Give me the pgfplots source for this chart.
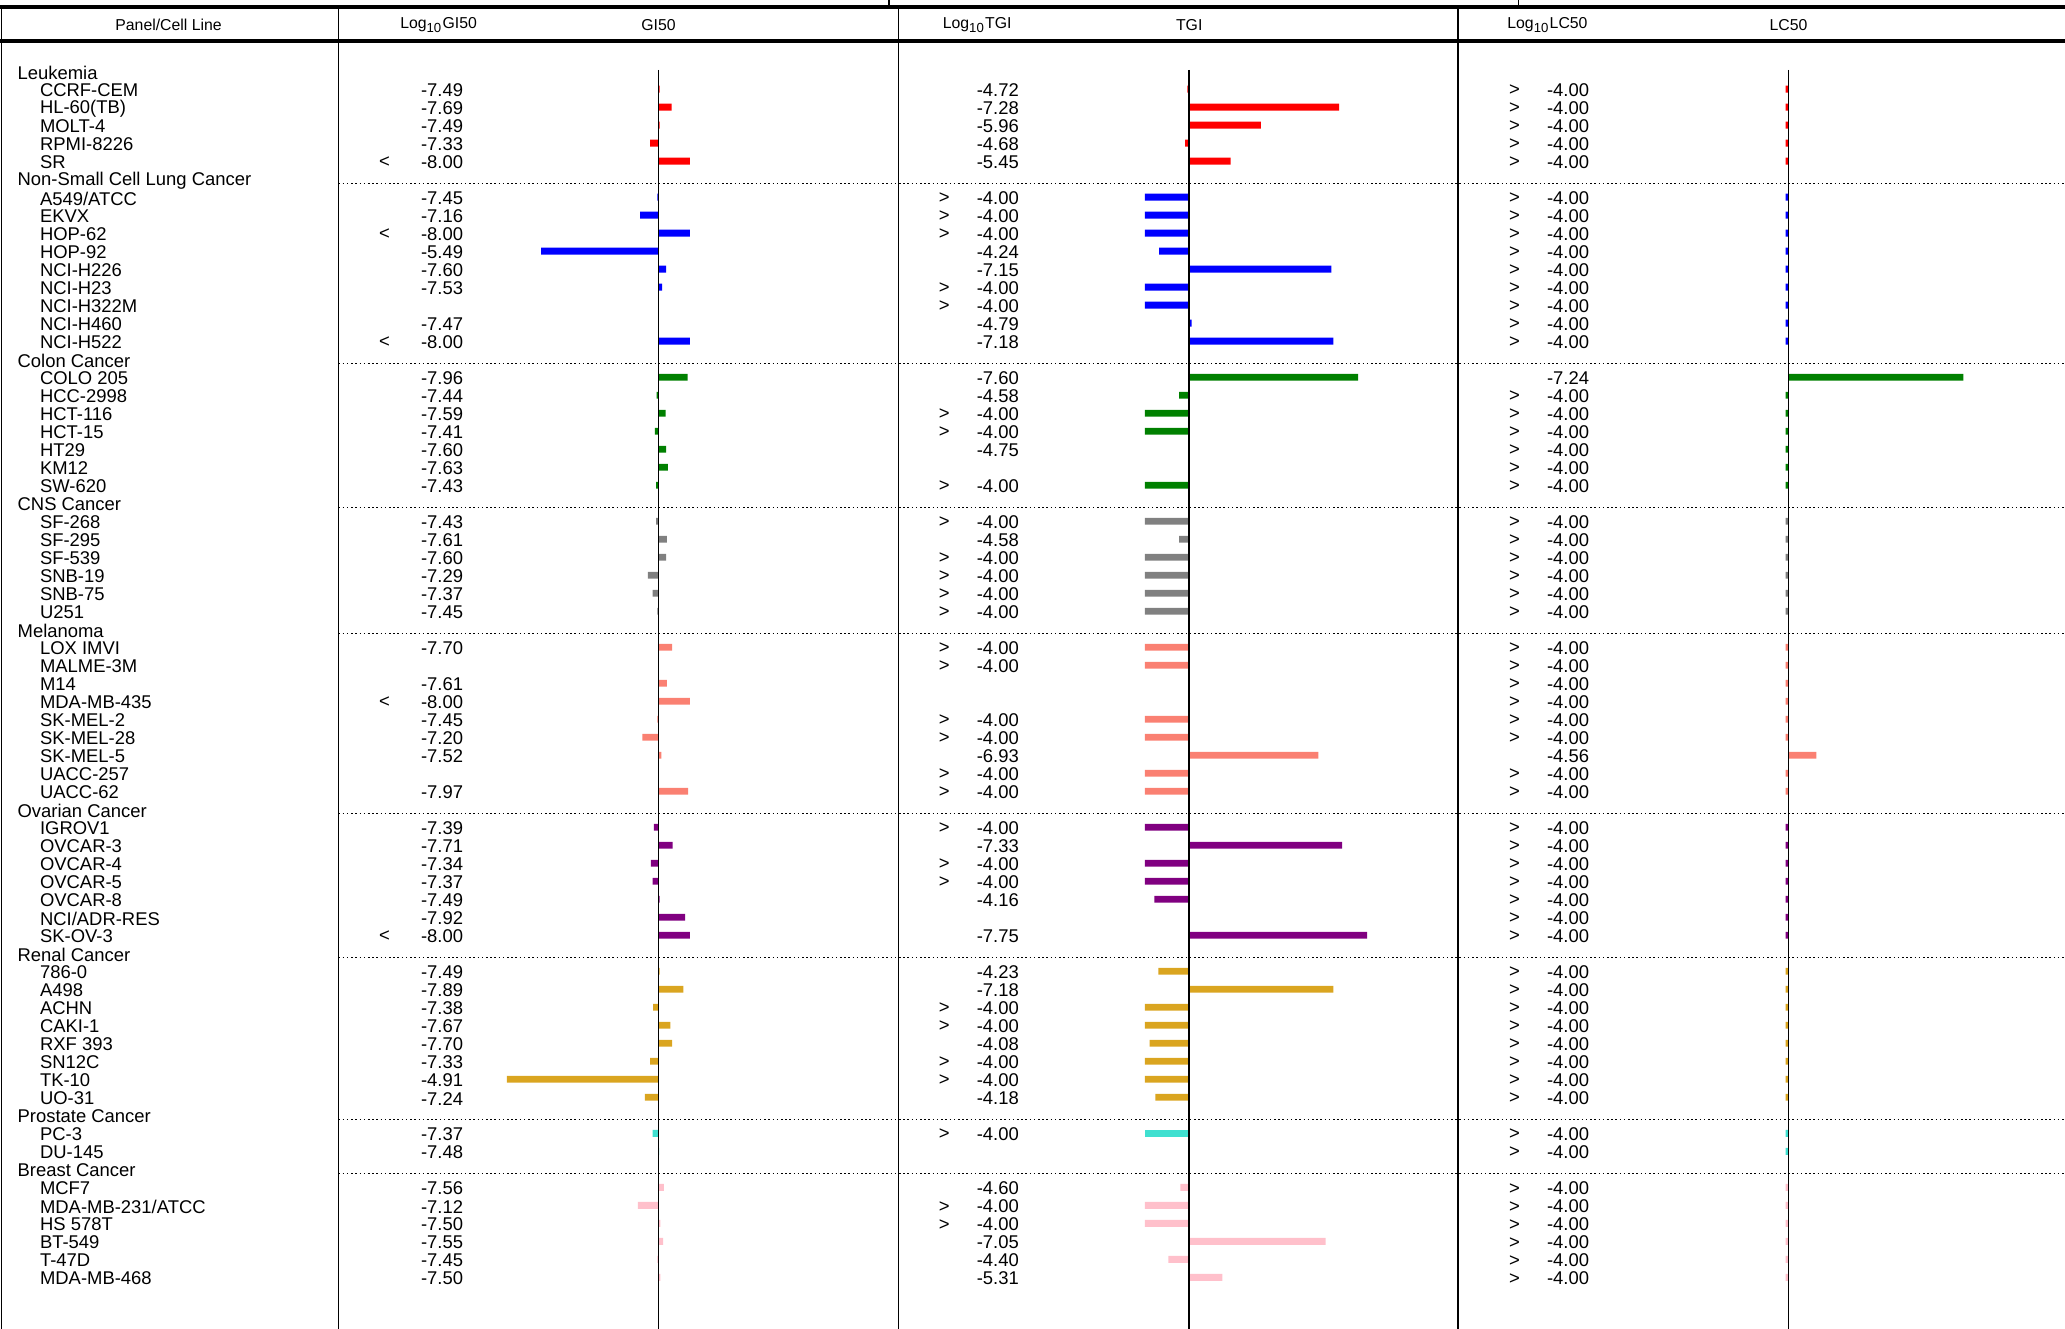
\documentclass[border=0pt]{standalone}
\usepackage{pgfplots}\pgfplotsset{compat=1.18}
\usepackage{pgfplotstable}
\usepackage{fontspec}\setmainfont{Liberation Sans}
\definecolor{cgreen}{RGB}{0,128,0}
\definecolor{cgray}{RGB}{128,128,128}
\definecolor{csalmon}{RGB}{250,128,114}
\definecolor{cpurple}{RGB}{128,0,128}
\definecolor{cgold}{RGB}{218,165,32}
\definecolor{cturq}{RGB}{64,224,208}
\definecolor{cpink}{RGB}{255,192,203}
\pgfplotstableread{
r g t l
1 -7.49 -4.72 -4.00
2 -7.69 -7.28 -4.00
3 -7.49 -5.96 -4.00
4 -7.33 -4.68 -4.00
5 -8.00 -5.45 -4.00
}\tLeuk
\pgfplotstableread{
r g t l
7 -7.45 -4.00 -4.00
8 -7.16 -4.00 -4.00
9 -8.00 -4.00 -4.00
10 -5.49 -4.24 -4.00
11 -7.60 -7.15 -4.00
12 -7.53 -4.00 -4.00
13 nan -4.00 -4.00
14 -7.47 -4.79 -4.00
15 -8.00 -7.18 -4.00
}\tLung
\pgfplotstableread{
r g t l
17 -7.96 -7.60 -7.24
18 -7.44 -4.58 -4.00
19 -7.59 -4.00 -4.00
20 -7.41 -4.00 -4.00
21 -7.60 -4.75 -4.00
22 -7.63 nan -4.00
23 -7.43 -4.00 -4.00
}\tColon
\pgfplotstableread{
r g t l
25 -7.43 -4.00 -4.00
26 -7.61 -4.58 -4.00
27 -7.60 -4.00 -4.00
28 -7.29 -4.00 -4.00
29 -7.37 -4.00 -4.00
30 -7.45 -4.00 -4.00
}\tCNS
\pgfplotstableread{
r g t l
32 -7.70 -4.00 -4.00
33 nan -4.00 -4.00
34 -7.61 nan -4.00
35 -8.00 nan -4.00
36 -7.45 -4.00 -4.00
37 -7.20 -4.00 -4.00
38 -7.52 -6.93 -4.56
39 nan -4.00 -4.00
40 -7.97 -4.00 -4.00
}\tMel
\pgfplotstableread{
r g t l
42 -7.39 -4.00 -4.00
43 -7.71 -7.33 -4.00
44 -7.34 -4.00 -4.00
45 -7.37 -4.00 -4.00
46 -7.49 -4.16 -4.00
47 -7.92 nan -4.00
48 -8.00 -7.75 -4.00
}\tOva
\pgfplotstableread{
r g t l
50 -7.49 -4.23 -4.00
51 -7.89 -7.18 -4.00
52 -7.38 -4.00 -4.00
53 -7.67 -4.00 -4.00
54 -7.70 -4.08 -4.00
55 -7.33 -4.00 -4.00
56 -4.91 -4.00 -4.00
57 -7.24 -4.18 -4.00
}\tRen
\pgfplotstableread{
r g t l
59 -7.37 -4.00 -4.00
60 -7.48 nan -4.00
}\tPro
\pgfplotstableread{
r g t l
62 -7.56 -4.60 -4.00
63 -7.12 -4.00 -4.00
64 -7.50 -4.00 -4.00
65 -7.55 -7.05 -4.00
66 -7.45 -4.40 -4.00
67 -7.50 -5.31 -4.00
}\tBre
\pgfplotsset{barax/.style={hide axis, scale only axis, height=504.5pt, ymin=-3.95, ymax=69.86, y dir=reverse, clip=false, xbar, bar width=2.6pt, bar shift=0pt, unbounded coords=discard}}
\newcommand\yy[1]{{(477-6.835*#1)*1pt}}
\newcommand\R[8]{%
 \node[anchor=west,inner sep=0] at (15pt,\yy{#1}) {#2};
 \node[inner sep=0] at (146pt,\yy{#1}) {#3};
 \node[anchor=east,inner sep=0] at (176pt,\yy{#1}) {#4};
 \node[inner sep=0] at (358.5pt,\yy{#1}) {#5};
 \node[anchor=east,inner sep=0] at (387pt,\yy{#1}) {#6};
 \node[inner sep=0] at (575pt,\yy{#1}) {#7};
 \node[anchor=east,inner sep=0] at (603.5pt,\yy{#1}) {#8};}
\newcommand\Hh[2]{\node[anchor=west,inner sep=0] at (6.5pt,\yy{#1}) {#2};
 \draw[densely dotted,line width=0.6pt] (128.5pt,{(477.5-6.835*#1-1.6)*1pt}) -- (784pt,{(477.5-6.835*#1-1.6)*1pt});}
\newcommand\bars[1]{%
 \addplot[fill=red,draw=none] table[y=r,x expr={#1}]{\tLeuk};
 \addplot[fill=blue,draw=none] table[y=r,x expr={#1}]{\tLung};
 \addplot[fill=cgreen,draw=none] table[y=r,x expr={#1}]{\tColon};
 \addplot[fill=cgray,draw=none] table[y=r,x expr={#1}]{\tCNS};
 \addplot[fill=csalmon,draw=none] table[y=r,x expr={#1}]{\tMel};
 \addplot[fill=cpurple,draw=none] table[y=r,x expr={#1}]{\tOva};
 \addplot[fill=cgold,draw=none] table[y=r,x expr={#1}]{\tRen};
 \addplot[fill=cturq,draw=none] table[y=r,x expr={#1}]{\tPro};
 \addplot[fill=cpink,draw=none] table[y=r,x expr={#1}]{\tBre};}
\begin{document}
\begin{tikzpicture}
\useasboundingbox (0,0) rectangle (784pt,504.5pt);
\begin{axis}[barax, at={(128.5pt,0)}, width=212.5pt, xmin=-5.4, xmax=4.044]
\bars{-7.47-\thisrow{g}}
\end{axis}
\begin{axis}[barax, at={(341pt,0)}, width=212.5pt, xmin=-4.911, xmax=4.533]
\bars{-4.75-\thisrow{t}}
\end{axis}
\begin{axis}[barax, at={(553.5pt,0)}, width=230.5pt, xmin=-6.02, xmax=5.04]
\bars{-4.05-\thisrow{l}}
\end{axis}
% frame
\draw[line width=1.5pt] (0,502pt) -- (784pt,502pt);
\draw[line width=1.3pt] (0,489pt) -- (784pt,489pt);
\draw[line width=0.6pt] (337.5pt,502pt) -- (337.5pt,504.5pt);
\draw[line width=0.6pt] (576.5pt,502pt) -- (576.5pt,504.5pt);
\foreach \x in {0.5,128.5,341,553.5} \draw[line width=0.5pt] (\x pt,502pt) -- (\x pt,0);
\foreach \x in {250,451.5,679} \draw[line width=0.7pt] (\x pt,478pt) -- (\x pt,0);
% headers
\begin{scope}[font=\fontsize{6}{6}\selectfont]
\node at (64pt,495pt) {Panel/Cell Line};
\node at (166.5pt,495pt) {Log\textsubscript{10}GI50};
\node at (250pt,495pt) {GI50};
\node at (371pt,495pt) {Log\textsubscript{10}TGI};
\node at (451.5pt,495pt) {TGI};
\node at (587.5pt,495pt) {Log\textsubscript{10}LC50};
\node at (679pt,495pt) {LC50};
\end{scope}
\begin{scope}[font=\fontsize{7}{7}\selectfont]
\node[anchor=west,inner sep=0] at (6.5pt,\yy{0}) {Leukemia};
\R{1}{CCRF-CEM}{}{-7.49}{}{-4.72}{>}{-4.00}
\R{2}{HL-60(TB)}{}{-7.69}{}{-7.28}{>}{-4.00}
\R{3}{MOLT-4}{}{-7.49}{}{-5.96}{>}{-4.00}
\R{4}{RPMI-8226}{}{-7.33}{}{-4.68}{>}{-4.00}
\R{5}{SR}{<}{-8.00}{}{-5.45}{>}{-4.00}
\Hh{6}{Non-Small Cell Lung Cancer}
\R{7}{A549/ATCC}{}{-7.45}{>}{-4.00}{>}{-4.00}
\R{8}{EKVX}{}{-7.16}{>}{-4.00}{>}{-4.00}
\R{9}{HOP-62}{<}{-8.00}{>}{-4.00}{>}{-4.00}
\R{10}{HOP-92}{}{-5.49}{}{-4.24}{>}{-4.00}
\R{11}{NCI-H226}{}{-7.60}{}{-7.15}{>}{-4.00}
\R{12}{NCI-H23}{}{-7.53}{>}{-4.00}{>}{-4.00}
\R{13}{NCI-H322M}{}{}{>}{-4.00}{>}{-4.00}
\R{14}{NCI-H460}{}{-7.47}{}{-4.79}{>}{-4.00}
\R{15}{NCI-H522}{<}{-8.00}{}{-7.18}{>}{-4.00}
\Hh{16}{Colon Cancer}
\R{17}{COLO 205}{}{-7.96}{}{-7.60}{}{-7.24}
\R{18}{HCC-2998}{}{-7.44}{}{-4.58}{>}{-4.00}
\R{19}{HCT-116}{}{-7.59}{>}{-4.00}{>}{-4.00}
\R{20}{HCT-15}{}{-7.41}{>}{-4.00}{>}{-4.00}
\R{21}{HT29}{}{-7.60}{}{-4.75}{>}{-4.00}
\R{22}{KM12}{}{-7.63}{}{}{>}{-4.00}
\R{23}{SW-620}{}{-7.43}{>}{-4.00}{>}{-4.00}
\Hh{24}{CNS Cancer}
\R{25}{SF-268}{}{-7.43}{>}{-4.00}{>}{-4.00}
\R{26}{SF-295}{}{-7.61}{}{-4.58}{>}{-4.00}
\R{27}{SF-539}{}{-7.60}{>}{-4.00}{>}{-4.00}
\R{28}{SNB-19}{}{-7.29}{>}{-4.00}{>}{-4.00}
\R{29}{SNB-75}{}{-7.37}{>}{-4.00}{>}{-4.00}
\R{30}{U251}{}{-7.45}{>}{-4.00}{>}{-4.00}
\Hh{31}{Melanoma}
\R{32}{LOX IMVI}{}{-7.70}{>}{-4.00}{>}{-4.00}
\R{33}{MALME-3M}{}{}{>}{-4.00}{>}{-4.00}
\R{34}{M14}{}{-7.61}{}{}{>}{-4.00}
\R{35}{MDA-MB-435}{<}{-8.00}{}{}{>}{-4.00}
\R{36}{SK-MEL-2}{}{-7.45}{>}{-4.00}{>}{-4.00}
\R{37}{SK-MEL-28}{}{-7.20}{>}{-4.00}{>}{-4.00}
\R{38}{SK-MEL-5}{}{-7.52}{}{-6.93}{}{-4.56}
\R{39}{UACC-257}{}{}{>}{-4.00}{>}{-4.00}
\R{40}{UACC-62}{}{-7.97}{>}{-4.00}{>}{-4.00}
\Hh{41}{Ovarian Cancer}
\R{42}{IGROV1}{}{-7.39}{>}{-4.00}{>}{-4.00}
\R{43}{OVCAR-3}{}{-7.71}{}{-7.33}{>}{-4.00}
\R{44}{OVCAR-4}{}{-7.34}{>}{-4.00}{>}{-4.00}
\R{45}{OVCAR-5}{}{-7.37}{>}{-4.00}{>}{-4.00}
\R{46}{OVCAR-8}{}{-7.49}{}{-4.16}{>}{-4.00}
\R{47}{NCI/ADR-RES}{}{-7.92}{}{}{>}{-4.00}
\R{48}{SK-OV-3}{<}{-8.00}{}{-7.75}{>}{-4.00}
\Hh{49}{Renal Cancer}
\R{50}{786-0}{}{-7.49}{}{-4.23}{>}{-4.00}
\R{51}{A498}{}{-7.89}{}{-7.18}{>}{-4.00}
\R{52}{ACHN}{}{-7.38}{>}{-4.00}{>}{-4.00}
\R{53}{CAKI-1}{}{-7.67}{>}{-4.00}{>}{-4.00}
\R{54}{RXF 393}{}{-7.70}{}{-4.08}{>}{-4.00}
\R{55}{SN12C}{}{-7.33}{>}{-4.00}{>}{-4.00}
\R{56}{TK-10}{}{-4.91}{>}{-4.00}{>}{-4.00}
\R{57}{UO-31}{}{-7.24}{}{-4.18}{>}{-4.00}
\Hh{58}{Prostate Cancer}
\R{59}{PC-3}{}{-7.37}{>}{-4.00}{>}{-4.00}
\R{60}{DU-145}{}{-7.48}{}{}{>}{-4.00}
\Hh{61}{Breast Cancer}
\R{62}{MCF7}{}{-7.56}{}{-4.60}{>}{-4.00}
\R{63}{MDA-MB-231/ATCC}{}{-7.12}{>}{-4.00}{>}{-4.00}
\R{64}{HS 578T}{}{-7.50}{>}{-4.00}{>}{-4.00}
\R{65}{BT-549}{}{-7.55}{}{-7.05}{>}{-4.00}
\R{66}{T-47D}{}{-7.45}{}{-4.40}{>}{-4.00}
\R{67}{MDA-MB-468}{}{-7.50}{}{-5.31}{>}{-4.00}
\end{scope}
\end{tikzpicture}
\end{document}
